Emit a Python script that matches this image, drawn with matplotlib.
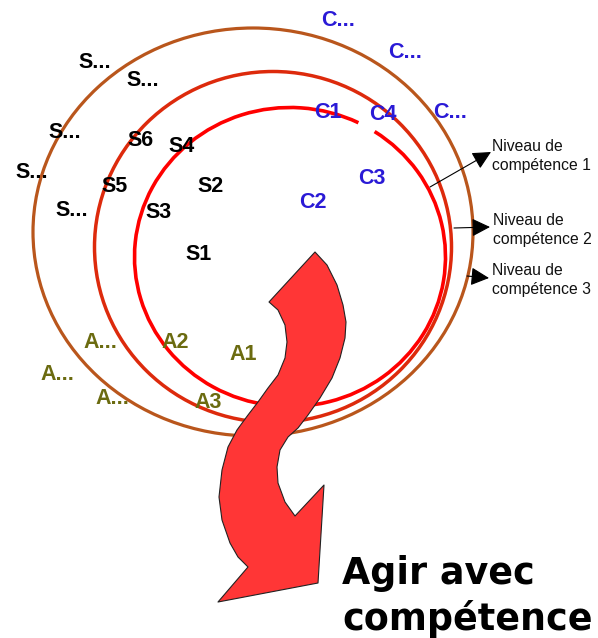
import matplotlib
matplotlib.use("Agg")
import matplotlib.pyplot as plt
from matplotlib.patches import Arc, Ellipse, Polygon, FancyArrowPatch

# ---- data ----
s_labels = ["S...", "S...", "S...", "S...", "S...", "S6", "S4", "S5", "S2", "S3", "S1"]
s_x = [95, 143, 65, 32, 72, 140, 182, 115, 211, 159, 199]
s_y = [62, 81, 132, 172, 210, 140, 147, 187, 187, 213, 255]

c_labels = ["C...", "C...", "C...", "C1", "C4", "C3", "C2"]
c_x = [338, 405, 450, 328, 383, 372, 313]
c_y = [21, 52, 113, 112, 115, 178, 202]

a_labels = ["A...", "A...", "A...", "A2", "A1", "A3"]
a_x = [100, 57, 112, 175, 243, 208]
a_y = [343, 375, 398, 342, 355, 403]

level_labels = ["Niveau de\ncompétence 1", "Niveau de\ncompétence 2", "Niveau de\ncompétence 3"]
level_x = [492, 493, 492]
level_y = [156, 230, 280]
arrow_start_x = [430, 454, 467]
arrow_start_y = [187, 228, 276]
arrow_end_x = [491, 490, 489]
arrow_end_y = [152, 227, 278]

# ellipses: center x, center y, width, height
ell_cx = [253, 273, 290]
ell_cy = [232, 247, 257]
ell_w = [440, 357, 311]
ell_h = [408, 351, 299]
ell_col = ["#b9561c", "#dd2a0c", "#ff0000"]
ell_lw = [2.3, 2.5, 2.6]

arrow_shape_x = [315, 327, 337, 343, 346, 345, 340, 332, 320, 308, 298, 288, 280, 277,
                 278, 285, 295, 324, 318, 218, 248, 238, 230, 222, 219, 222, 228, 237,
                 248, 258, 268, 278, 285, 287, 285, 278, 269]
arrow_shape_y = [252, 265, 285, 305, 322, 338, 358, 378, 398, 415, 428, 437, 450, 467,
                 483, 502, 516, 485, 583, 602, 567, 557, 543, 520, 497, 470, 447, 430,
                 415, 402, 388, 375, 358, 342, 325, 310, 302]

W, H = 598, 638
fig = plt.figure(figsize=(W / 100, H / 100), dpi=100)
ax = fig.add_axes([0, 0, 1, 1])
ax.set_xlim(0, W)
ax.set_ylim(H, 0)
ax.axis("off")

# outer and middle ellipses
for i in range(2):
    ax.add_patch(Ellipse((ell_cx[i], ell_cy[i]), ell_w[i], ell_h[i], fill=False,
                         edgecolor=ell_col[i], lw=ell_lw[i], zorder=2))
# inner ellipse with gap at upper right
ax.add_patch(Arc((ell_cx[2], ell_cy[2]), ell_w[2], ell_h[2], theta1=304, theta2=657,
                 edgecolor=ell_col[2], lw=ell_lw[2], zorder=2))

# big arrow
ax.add_patch(Polygon(list(zip(arrow_shape_x, arrow_shape_y)), closed=True,
                     facecolor="#ff3636", edgecolor="#222222", lw=0.8,
                     joinstyle="round", zorder=3))

fam = ["Liberation Sans", "DejaVu Sans"]
LBL = 15.5
for t, x, y in zip(s_labels, s_x, s_y):
    ax.text(x, y, t, ha="center", va="center", fontsize=LBL, fontweight="bold",
            color="black", family=fam, zorder=4)
for t, x, y in zip(c_labels, c_x, c_y):
    ax.text(x, y, t, ha="center", va="center", fontsize=LBL, fontweight="bold",
            color="#2a1ad6", family=fam, zorder=4)
for t, x, y in zip(a_labels, a_x, a_y):
    ax.text(x, y, t, ha="center", va="center", fontsize=LBL, fontweight="bold",
            color="#6b6b10", family=fam, zorder=4)

for t, x, y in zip(level_labels, level_x, level_y):
    ax.text(x, y, t, ha="left", va="center", fontsize=11.3, color="#111111",
            family=fam, linespacing=1.3, zorder=4)
for x0, y0, x1, y1 in zip(arrow_start_x, arrow_start_y, arrow_end_x, arrow_end_y):
    ax.add_patch(FancyArrowPatch((x0, y0), (x1, y1), arrowstyle="-|>,head_length=7,head_width=3.5",
                                 color="black", lw=0.8, shrinkA=0, shrinkB=0,
                                 mutation_scale=1.6, zorder=4))

ax.text(342, 630, "Agir avec\ncompétence", ha="left", va="baseline", fontsize=26.3,
        fontweight="bold", color="black", family=["DejaVu Sans"], linespacing=1.28,
        zorder=5)

fig.savefig("out.png", dpi=100)
